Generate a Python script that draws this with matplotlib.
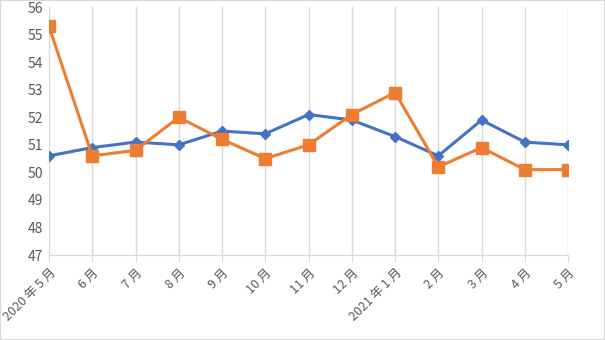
import matplotlib.pyplot as plt

plt.rcParams['font.family'] = ['Noto Sans CJK SC', 'DejaVu Sans']

months = ['2020 年 5 月', '6 月', '7 月', '8 月', '9 月', '10 月', '11 月', '12 月',
          '2021 年 1 月', '2 月', '3 月', '4 月', '5 月']
blue_vals = [50.6, 50.9, 51.1, 51.0, 51.5, 51.4, 52.1, 51.9, 51.3, 50.6, 51.9, 51.1, 51.0]
orange_vals = [55.3, 50.6, 50.8, 52.0, 51.2, 50.5, 51.0, 52.1, 52.9, 50.2, 50.9, 50.1, 50.1]

fig = plt.figure(figsize=(6.05, 3.4), dpi=100)
ax = fig.add_axes([0.081, 0.25, 0.858, 0.729])

x = list(range(len(months)))
ax.plot(x, blue_vals, color='#4472C4', lw=2.2, marker='D', markersize=5.5, zorder=3)
ax.plot(x, orange_vals, color='#ED7D31', lw=2.2, marker='s', markersize=8, zorder=4)

ax.set_xlim(0, len(months) - 1)
ax.set_ylim(47, 56)
ax.set_yticks(range(47, 57))
ax.set_xticks(x)
ax.set_xticklabels(months, rotation=45, ha='right', rotation_mode='anchor')

ax.grid(axis='x', color='#D9D9D9', lw=1)
ax.set_axisbelow(True)
for side in ['top', 'right']:
    ax.spines[side].set_visible(False)
for side in ['left', 'bottom']:
    ax.spines[side].set_color('#D9D9D9')
ax.tick_params(axis='x', length=5, color='#D9D9D9', labelsize=9, labelcolor='#595959', pad=3)
ax.tick_params(axis='y', length=0, labelsize=10, labelcolor='#595959', pad=4)

# thin light border round the whole figure
fig.patches.append(plt.Rectangle((0, 0), 1, 1, transform=fig.transFigure,
                                 fill=False, edgecolor='#D9D9D9', lw=1.5))

fig.savefig('out.png', dpi=100)
